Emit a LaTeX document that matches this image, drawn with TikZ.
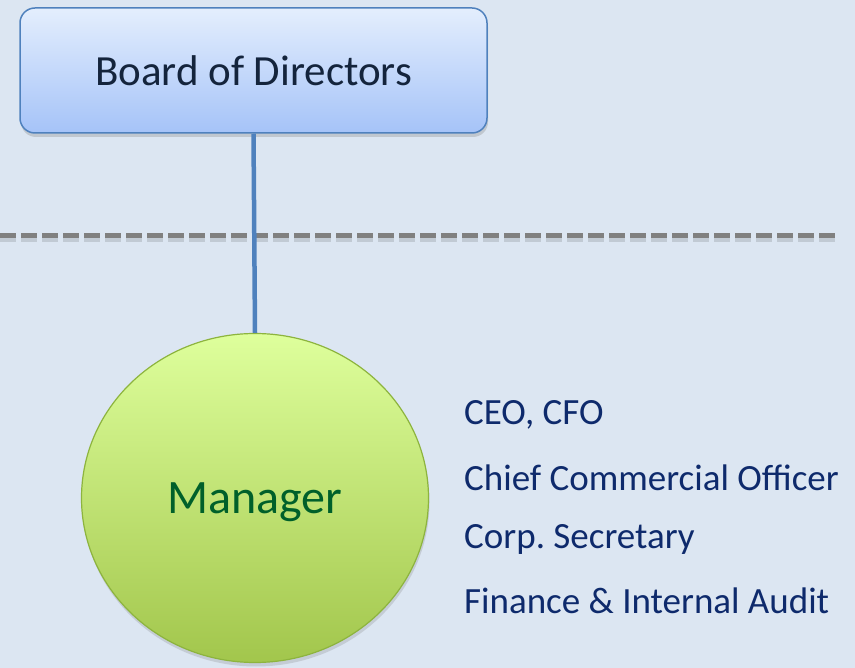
\documentclass[tikz,border=0pt]{standalone}
\usepackage{fontspec}
\setmainfont{Carlito}
\usepackage{tikz}
\usetikzlibrary{positioning,shapes.geometric,shadows}
\frenchspacing

\definecolor{canvas}{HTML}{DCE6F2}
\definecolor{boardtop}{HTML}{E4EEFD}
\definecolor{boardbot}{HTML}{A5C3F8}
\definecolor{boardrim}{HTML}{4F81BD}
\definecolor{boardtext}{HTML}{14243C}
\definecolor{mgrtop}{HTML}{DEFF9C}
\definecolor{mgrbot}{HTML}{A2C64C}
\definecolor{mgrrim}{HTML}{8DB43E}
\definecolor{mgrtext}{HTML}{00602A}
\definecolor{roletext}{HTML}{0E2A6C}
\definecolor{sepgray}{HTML}{808080}

\tikzset{
  boardbox/.style={rectangle, rounded corners=15pt, draw=boardrim, line width=1.5pt,
    top color=boardtop, bottom color=boardbot, minimum width=467pt, minimum height=125pt,
    text=boardtext, font=\fontsize{43}{45}\selectfont,
    drop shadow={shadow xshift=1pt, shadow yshift=-4pt, opacity=0.3}},
  mgrblob/.style={ellipse, draw=mgrrim, line width=1.2pt, top color=mgrtop, bottom color=mgrbot,
    minimum width=347pt, minimum height=329pt, inner sep=0pt, text=mgrtext, text depth=0pt,
    font=\fontsize{48}{50}\selectfont,
    drop shadow={shadow xshift=1pt, shadow yshift=-4pt, opacity=0.25}},
  role/.style={anchor=base west, text=roletext, font=\fontsize{37}{40}\selectfont, inner sep=0pt},
  conn/.style={draw=boardrim, line width=4.5pt},
  sepline/.style={draw=sepgray, line width=5pt, dash pattern=on 16pt off 5pt},
}

\begin{document}
\begin{tikzpicture}[x=1pt,y=-1pt]
  \fill[canvas] (0,0) rectangle (855,668);
  \useasboundingbox (0,0) rectangle (855,668);

  % separator between board and management
  \coordinate (sepL) at (0,236);
  \coordinate (sepR) at (837,236);
  \draw[sepline, draw=black, opacity=0.12, line width=7pt] ([yshift=-3pt]sepL) -- ([yshift=-3pt]sepR);
  \draw[sepline] (sepL) -- (sepR);

  \node[boardbox] (board) at (253.5,70.5) {Board of Directors};
  \node[mgrblob] (mgr) at (255,498) {Manager};

  \draw[conn] (board.south) -- (mgr.north);

  % the roles under the manager
  \node[role] (ceo) at (464,425) {CEO, CFO};
  \node[role] (cco) at ([yshift=-65pt]ceo.base west) {Chief Commercial Officer};
  \node[role] (sec) at ([yshift=-58pt]cco.base west) {Corp. Secretary};
  \node[role] (fin) at ([yshift=-65pt]sec.base west) {Finance \& Internal Audit};
\end{tikzpicture}
\end{document}
